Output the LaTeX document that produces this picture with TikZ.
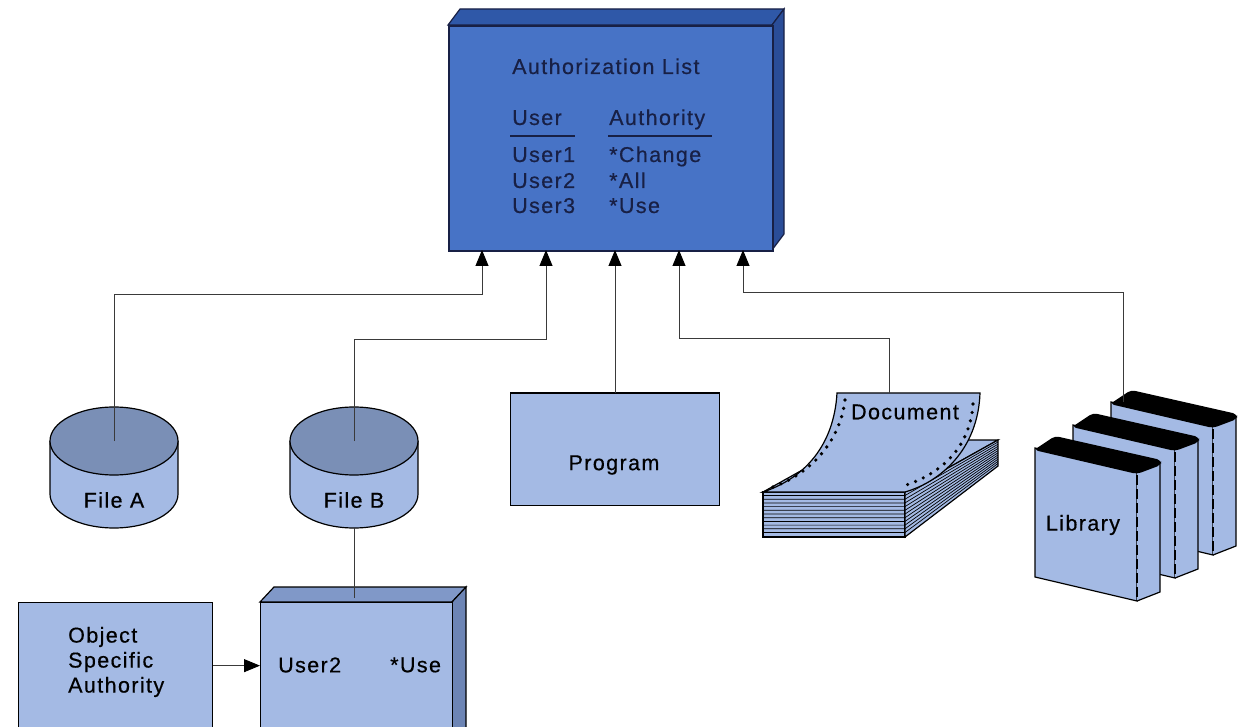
\documentclass[tikz,border=0pt]{standalone}
\usepackage{fontspec}
\setmainfont{Liberation Sans}[LetterSpace=6.5, FakeBold=0.5]
\usetikzlibrary{arrows.meta,calc}

\definecolor{authfront}{HTML}{4773C6}
\definecolor{authtop}{HTML}{2F58A8}
\definecolor{authside}{HTML}{2A4D98}
\definecolor{navy}{HTML}{182045}
\definecolor{paleblue}{HTML}{A4BAE4}
\definecolor{slate}{HTML}{7A8FB6}
\definecolor{boxtop}{HTML}{8098C8}
\definecolor{boxside}{HTML}{6D85B5}
\definecolor{wire}{HTML}{3A3A3A}

% disk drum: top centre at (#1,#2)
\newcommand\drumat[2]{%
  \begin{scope}[shift={(#1,#2)}]
    \fill[paleblue] (-64,0) rectangle (64,53);
    \fill[paleblue] (-64,53) .. controls (-64,71.8) and (-35.3,87) .. (0,87)
                   .. controls (35.3,87) and (64,71.8) .. (64,53) -- cycle;
    \draw[outline] (-64,0) -- (-64,53) .. controls (-64,71.8) and (-35.3,87) .. (0,87)
                   .. controls (35.3,87) and (64,71.8) .. (64,53) -- (64,0);
    \fill[slate, outline] (0,0) ellipse [x radius=64, y radius=34];
  \end{scope}}

% binder: front top-left corner at (#1,#2)
\newcommand\bookat[2]{%
  \begin{scope}[shift={(#1,#2)}]
    \fill[paleblue, outline] (0,0) -- (102,24) -- (102,153) -- (0,129) -- cycle;
    \fill[paleblue, outline] (102,24) -- (125,15) -- (125,144) -- (102,153);
    \draw[black, line width=1.7, dash pattern=on 10pt off 4pt] (102,27) -- (102,153);
    \fill[black, rounded corners=4] (-1,2) -- (102,26) -- (126,17) -- (126,12) -- (20,-12) -- cycle;
  \end{scope}}

\tikzset{
  outline/.style={draw=black, line width=1.2},
  link/.style={draw=wire, line width=0.9},
  tip/.style={-{Triangle[length=16pt,width=13pt,color=black]}},
  boxtext/.style={inner sep=0, text=navy},
  plaintext/.style={inner sep=0, text=black},
  dotrow/.style={draw=black, line width=3.6, line cap=round, dash pattern=on 0pt off 8.5pt}
}

\begin{document}
\begin{tikzpicture}[x=1pt, y=-1pt, font=\fontsize{21.5}{25}\selectfont]
\useasboundingbox (0,0) rectangle (1243,727);
\clip (0,0) rectangle (1243,727);

% ---- authorization list block ----
\fill[authtop, draw=navy, line width=1.2] (448,25) -- (460,9) -- (784,9) -- (772,25) -- cycle;
\fill[authside, draw=navy, line width=1.2] (772,25) -- (784,9) -- (784,234) -- (772,250) -- cycle;
\node[draw=navy, line width=1.6, fill=authfront, minimum width=324, minimum height=225,
      anchor=north west, inner sep=0] (auth) at (448,25) {};
\node[boxtext, anchor=base west] (title) at (512,74) {Authorization List};
\node[boxtext, anchor=base west] (hUser) at (512,125) {User};
\node[boxtext, anchor=base west] (hAuth) at (609,125) {Authority};
\draw[navy, line width=1.8] (510,136) -- (575,136);
\draw[navy, line width=1.8] (608,136) -- (712,136);
\node[boxtext, anchor=base west] (u1) at (512,162) {User1};
\node[boxtext, anchor=base west] (a1) at (609,162) {*Change};
\node[boxtext, anchor=base west] (u2) at (512,188) {User2};
\node[boxtext, anchor=base west] (a2) at (609,188) {*All};
\node[boxtext, anchor=base west] (u3) at (512,213) {User3};
\node[boxtext, anchor=base west] (a3) at (609,213) {*Use};

% ---- files ----
\drumat{114}{441}
\coordinate (fa) at (114,441);
\node[plaintext] (faText) at (114,500) {File A};
\drumat{354}{441}
\coordinate (fb) at (354,441);
\coordinate (fbBot) at (354,528);
\node[plaintext] (fbText) at (354,500) {File B};

% ---- program ----
\node[draw=black, line width=1.3, fill=paleblue, minimum width=209, minimum height=112,
      anchor=north west, inner sep=0] (prog) at (510,393) {};
\draw[black, line width=2.2] (prog.north west) -- (prog.north east);
\node[plaintext] (progText) at (614,465) {Program};

% ---- document: paper stack with a curled top sheet ----
\fill[paleblue, outline] (763,492) -- (905,492) -- (998,440) -- (856,440) -- cycle;
\fill[paleblue, outline] (763,492) rectangle (905,537);
\fill[paleblue, outline] (905,492) -- (998,440) -- (998,466) -- (905,537) -- cycle;
\foreach \k in {0,...,10} {
  \pgfmathsetmacro{\yy}{495.5+3.7*\k}
  \pgfmathsetmacro{\ys}{440+(\yy-492)*0.58}
  \draw[black, line width=0.7] (763,\yy) -- (905,\yy) -- (998,\ys);
}
\fill[paleblue, outline] (763,492) .. controls (805,478) and (834,445) .. (837,393)
      -- (980,393) .. controls (978,450) and (940,482) .. (905,492) -- cycle;
\draw[dotrow] (845,400) .. controls (840,442) and (810,474) .. (773,487);
\draw[dotrow] (973,404) .. controls (970,450) and (938,476) .. (900,487);
\coordinate (docTop) at (889,393);
\node[plaintext] (docText) at (905,412) {Document};

% ---- library: three binders ----
\bookat{1111}{402}
\bookat{1073}{425}
\bookat{1035}{448}
\coordinate (libTop) at (1123,402);
\node[plaintext] (libText) at (1083,525) {Library};

% ---- object specific authority ----
\node[draw=black, line width=1.3, fill=paleblue, minimum width=194, minimum height=126,
      anchor=north west, inner sep=0] (osa) at (18,602) {};
\node[plaintext, anchor=west, align=left] (osaText) at (68,662) {Object\\Specific\\Authority};

\fill[boxtop, outline] (260,602) -- (274,587) -- (466,587) -- (452,602) -- cycle;
\fill[boxside, outline] (452,602) -- (466,587) -- (466,728) -- (452,728) -- cycle;
\node[draw=black, line width=1.3, fill=paleblue, minimum width=192, minimum height=126,
      anchor=north west, inner sep=0] (u2box) at (260,602) {};
\node[plaintext, anchor=west] (u2Text) at (278,665) {User2};
\node[plaintext, anchor=west] (u2Auth) at (390,665) {*Use};
\coordinate (u2Top) at (354,598);

% ---- connectors ----
\coordinate (inA) at (482,250);  \coordinate (jA) at (482,294);
\coordinate (inB) at (546,250);  \coordinate (jB) at (546,339);
\coordinate (inP) at (615,250);
\coordinate (inD) at (679,250);  \coordinate (jD) at (679,338);
\coordinate (inL) at (743,250);  \coordinate (jL) at (743,292);

\draw[link, tip] (fa) |- (jA) -- (inA);
\draw[link, tip] (fb) |- (jB) -- (inB);
\draw[link, tip] (prog.north -| inP) -- (inP);
\draw[link, tip] (docTop) |- (jD) -- (inD);
\draw[link, tip] (libTop) |- (jL) -- (inL);
\draw[link] (fbBot) -- (u2Top);
\draw[link, tip] (osa.east) -- (u2box.west);
\end{tikzpicture}
\end{document}
